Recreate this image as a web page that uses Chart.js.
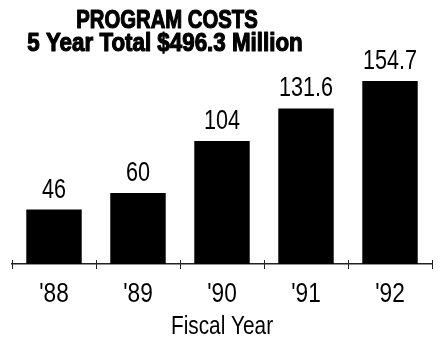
<!DOCTYPE html>
<html>
<head>
<meta charset="utf-8">
<script src="https://cdn.jsdelivr.net/npm/chart.js@4"></script>
<style>
  html, body { margin: 0; padding: 0; background: #fff; }
</style>
</head>
<body>
<canvas id="chart" width="440" height="338"></canvas>
<script>
// program costs by fiscal year, $ millions
const years = ["'88", "'89", "'90", "'91", "'92"]
const costs = [46, 60, 104, 131.6, 154.7]
const titleLines = ['PROGRAM COSTS', '5 Year Total $496.3 Million']
const xTitle = 'Fiscal Year'

// no narrow font installed, so Liberation Sans gets squeezed horizontally
const FONT = "'Liberation Sans', Arial, sans-serif"

function narrowText (ctx, text, x, y, font, sx, heavy) {
  ctx.save()
  ctx.translate(x, y)
  ctx.scale(sx, 1)
  ctx.font = font
  ctx.textAlign = 'center'
  ctx.textBaseline = 'alphabetic'
  ctx.fillStyle = '#000'
  ctx.fillText(text, 0, 0)
  if (heavy) {
    ctx.strokeStyle = '#000'
    ctx.lineWidth = heavy
    ctx.lineJoin = 'round'
    ctx.strokeText(text, 0, 0)
  }
  ctx.restore()
}

// title, value labels, tick labels, axis title, and ticks that cross the axis
const labelsPlugin = {
  id: 'labels',
  afterDraw (chart) {
    const { ctx, chartArea } = chart
    const xScale = chart.scales.x
    const base = chartArea.bottom

    ctx.save()
    ctx.strokeStyle = '#222'
    ctx.lineWidth = 1
    for (let i = 0; i <= years.length; i++) {
      const x = Math.round(xScale.getPixelForValue(i - 0.5)) + 0.5
      ctx.beginPath()
      ctx.moveTo(x, base - 4)
      ctx.lineTo(x, base + 5)
      ctx.stroke()
    }
    ctx.restore()

    const meta = chart.getDatasetMeta(0)
    meta.data.forEach((bar, i) => {
      narrowText(ctx, String(costs[i]), bar.x, bar.y - 12, '27px ' + FONT, 0.8)
    })
    years.forEach((y, i) => {
      narrowText(ctx, y, xScale.getPixelForValue(i), 302, '27px ' + FONT, 0.84)
    })
    narrowText(ctx, xTitle, (chartArea.left + chartArea.right) / 2, 334, '26px ' + FONT, 0.8)
    narrowText(ctx, titleLines[0], 167, 28, 'bold 26px ' + FONT, 0.78, 1.2)
    narrowText(ctx, titleLines[1], 165, 51, 'bold 26px ' + FONT, 0.86, 1.2)
  }
}

new Chart(document.getElementById('chart'), {
  type: 'bar',
  data: {
    labels: years,
    datasets: [{
      data: costs,
      backgroundColor: '#000',
      borderWidth: 0,
      categoryPercentage: 1,
      barPercentage: 0.66
    }]
  },
  options: {
    responsive: false,
    animation: false,
    layout: { padding: { left: 12, right: 8, top: 63, bottom: 0 } },
    plugins: { legend: { display: false }, tooltip: { enabled: false } },
    scales: {
      x: {
        afterFit: scale => { scale.height = 74 },
        border: { display: true, color: '#222', width: 1.5 },
        grid: { display: false },
        ticks: { display: false }
      },
      y: {
        display: false,
        min: 0,
        max: 170
      }
    }
  },
  plugins: [labelsPlugin]
})
</script>
</body>
</html>
